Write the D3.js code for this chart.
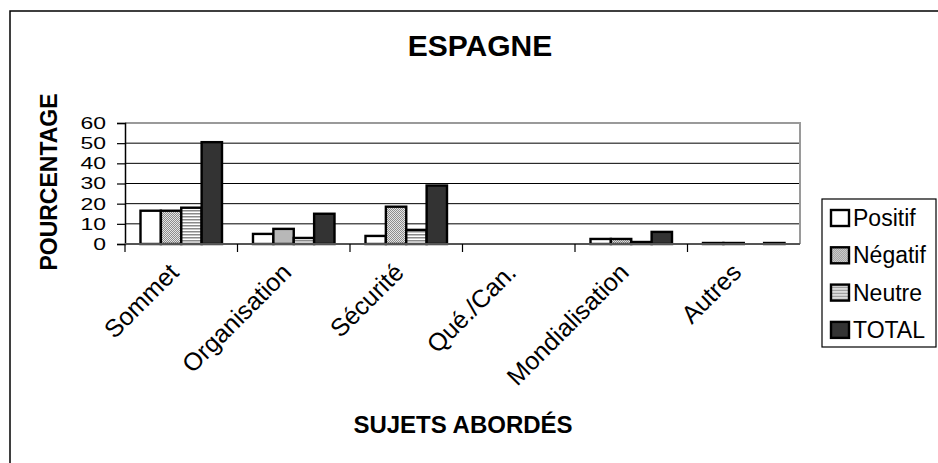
<!DOCTYPE html>
<html>
<head>
<meta charset="utf-8">
<script src="https://cdn.jsdelivr.net/npm/d3@7"></script>
<style>
  body { margin: 0; background: #fff; }
  svg { display: block; font-family: "Liberation Sans", Arial, sans-serif; }
</style>
</head>
<body>
<div id="chart"></div>
<script>
// Data
const categories = ['Sommet', 'Organisation', 'Sécurité', 'Qué./Can.', 'Mondialisation', 'Autres'];
const seriesNames = ['Positif', 'Négatif', 'Neutre', 'TOTAL'];
const positif = [16.5, 5, 4, 0, 2.5, 0.5];
const negatif = [16.5, 7.5, 18.5, 0, 2.5, 0.5];
const neutre = [18, 3, 7, 0, 1, 0];
const total = [50.5, 15, 29, 0, 6, 0.5];
const yTicks = [0, 10, 20, 30, 40, 50, 60];

const seriesValues = [positif, negatif, neutre, total];

const W = 938, H = 463;
const plot = { left: 125, right: 800, top: 123, bottom: 244 };

const svg = d3.select('#chart')
    .append('svg')
    .attr('width', W)
    .attr('height', H);

// Patterns for the bar fills
const defs = svg.append('defs');
const dots = defs.append('pattern')
    .attr('id', 'pat-neg')
    .attr('patternUnits', 'userSpaceOnUse')
    .attr('width', 2).attr('height', 2);
dots.append('rect').attr('width', 2).attr('height', 2).attr('fill', '#e4e4e4');
dots.append('rect').attr('width', 1).attr('height', 1).attr('fill', '#8c8c8c');
dots.append('rect').attr('x', 1).attr('y', 1).attr('width', 1).attr('height', 1).attr('fill', '#8c8c8c');

const stripes = defs.append('pattern')
    .attr('id', 'pat-neu')
    .attr('patternUnits', 'userSpaceOnUse')
    .attr('width', 4).attr('height', 3);
stripes.append('rect').attr('width', 4).attr('height', 3).attr('fill', '#fff');
stripes.append('rect').attr('width', 4).attr('height', 1.5).attr('fill', '#8a8a8a');

const fills = ['#ffffff', 'url(#pat-neg)', 'url(#pat-neu)', '#333333'];

// Outer frame (runs past the picture on the right and bottom)
svg.append('rect')
    .attr('x', 10).attr('y', 11)
    .attr('width', 1000).attr('height', 1000)
    .attr('fill', 'none')
    .attr('stroke', '#000')
    .attr('stroke-width', 1.5);

// Scales
const x0 = d3.scaleBand()
    .domain(categories)
    .range([plot.left, plot.right])
    .padding(0);

const x1 = d3.scaleBand()
    .domain(seriesNames)
    .range([15.5, x0.bandwidth() - 15.5])
    .padding(0);

const y = d3.scaleLinear()
    .domain([0, 60])
    .range([plot.bottom, plot.top]);

// Gridlines
svg.append('g')
    .selectAll('line')
    .data(yTicks.filter(t => t > 0 && t < 60))
    .join('line')
    .attr('x1', plot.left).attr('x2', plot.right)
    .attr('y1', d => y(d)).attr('y2', d => y(d))
    .attr('stroke', '#000')
    .attr('stroke-width', 1);

// Plot area top and right border (gray)
svg.append('path')
    .attr('d', `M${plot.left},${y(60)}H${plot.right}V${plot.bottom}`)
    .attr('fill', 'none')
    .attr('stroke', '#9a9a9a')
    .attr('stroke-width', 2);

// Bars
const groups = svg.append('g')
    .selectAll('g')
    .data(categories)
    .join('g')
    .attr('transform', d => `translate(${x0(d)},0)`);

groups.selectAll('rect')
    .data((cat, ci) => seriesNames.map((s, si) => ({ s, si, v: seriesValues[si][ci] })).filter(d => d.v > 0))
    .join('rect')
    .attr('x', d => x1(d.s))
    .attr('width', x1.bandwidth())
    .attr('y', d => y(d.v))
    .attr('height', d => y(0) - y(d.v))
    .attr('fill', d => fills[d.si])
    .attr('stroke', '#000')
    .attr('stroke-width', 2.4);

// Y axis (labels are stretched sideways like in the original)
const yAxis = svg.append('g')
    .attr('transform', `translate(${plot.left},0)`)
    .call(d3.axisLeft(y).tickValues(yTicks).tickSize(8));
yAxis.select('.domain').attr('stroke', '#000').attr('stroke-width', 1.5);
yAxis.selectAll('.tick line').attr('stroke', '#000').attr('stroke-width', 1.2);
yAxis.selectAll('text')
    .attr('x', 0)
    .attr('transform', 'translate(-19,0) scale(1.35,1)')
    .attr('font-size', 17)
    .attr('fill', '#000')
    .attr('font-family', '"Liberation Sans", Arial, sans-serif');

// X axis with ticks at category boundaries
const xAxis = svg.append('g')
    .attr('transform', `translate(0,${plot.bottom})`);
xAxis.append('line')
    .attr('x1', plot.left).attr('x2', plot.right)
    .attr('stroke', '#555')
    .attr('stroke-width', 2);
xAxis.selectAll('.bt')
    .data(categories)
    .join('line')
    .attr('class', 'bt')
    .attr('x1', d => x0(d)).attr('x2', d => x0(d))
    .attr('y1', 0).attr('y2', 8)
    .attr('stroke', '#000')
    .attr('stroke-width', 1.2);

xAxis.selectAll('text')
    .data(categories)
    .join('text')
    .attr('transform', d => `translate(${x0(d) + x0.bandwidth() / 2 - 1},${30}) rotate(-45)`)
    .attr('text-anchor', 'end')
    .attr('font-size', 25)
    .attr('fill', '#000')
    .text(d => d);

// Titles
svg.append('text')
    .attr('x', 480).attr('y', 56)
    .attr('text-anchor', 'middle')
    .attr('font-size', 30)
    .attr('font-weight', 'bold')
    .text('ESPAGNE');

svg.append('text')
    .attr('x', 463).attr('y', 433)
    .attr('text-anchor', 'middle')
    .attr('font-size', 24)
    .attr('font-weight', 'bold')
    .text('SUJETS ABORDÉS');

svg.append('text')
    .attr('transform', 'translate(57,182) rotate(-90)')
    .attr('text-anchor', 'middle')
    .attr('font-size', 23)
    .attr('font-weight', 'bold')
    .text('POURCENTAGE');

// Legend
const legend = svg.append('g').attr('transform', 'translate(822,199)');
legend.append('rect')
    .attr('width', 114).attr('height', 148)
    .attr('fill', '#fff')
    .attr('stroke', '#000')
    .attr('stroke-width', 1.2);
const items = legend.selectAll('.item')
    .data(seriesNames)
    .join('g')
    .attr('class', 'item')
    .attr('transform', (d, i) => `translate(0,${19 + i * 37.3})`);
items.append('rect')
    .attr('x', 9).attr('y', -8)
    .attr('width', 18).attr('height', 16)
    .attr('fill', (d, i) => fills[i])
    .attr('stroke', '#000')
    .attr('stroke-width', 2.4);
items.append('text')
    .attr('x', 31).attr('y', 8)
    .attr('font-size', 23)
    .attr('fill', '#000')
    .text(d => d);
</script>
</body>
</html>
